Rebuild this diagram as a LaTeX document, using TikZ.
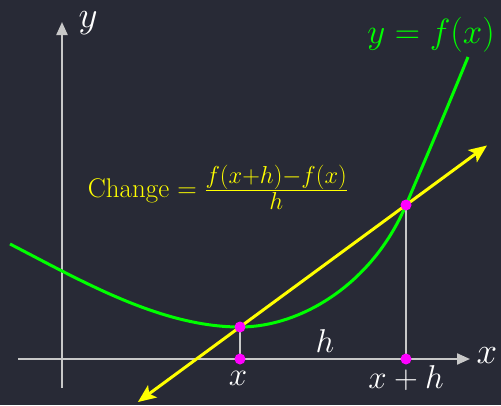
\RequirePackage{fix-cm}
\documentclass[tikz,border=0pt]{standalone}
\usepackage{amsmath}
\usetikzlibrary{arrows.meta,calc}
\definecolor{bg}{HTML}{282A36}
\definecolor{axisgray}{HTML}{C8C8C8}
\definecolor{curvegreen}{HTML}{00FF00}
\definecolor{secyellow}{HTML}{FFFF00}
\definecolor{dotmag}{HTML}{FF00FF}
\newcommand{\fracpart}[1]{\text{\fontsize{24.5}{26}\selectfont$#1$}}
\tikzset{
  axisline/.style={draw=axisgray, line width=2.2pt, -{Triangle[length=13pt,width=11pt]}},
  dropline/.style={draw=axisgray, line width=2.2pt},
  curveline/.style={draw=curvegreen, line width=3pt},
  secline/.style={draw=secyellow, line width=3pt, {Stealth[length=18pt,width=15pt,inset=4pt]}-{Stealth[length=18pt,width=15pt,inset=4pt]}},
  dot/.style={circle, fill=dotmag, inner sep=0pt, minimum size=11pt},
  axislabel/.style={text=white, inner sep=0pt, font=\fontsize{37}{40}\selectfont},
  ticklabel/.style={text=white, inner sep=0pt, font=\fontsize{33}{36}\selectfont},
}
\begin{document}
\begin{tikzpicture}[x=1pt,y=-1pt]
\useasboundingbox (0,0) rectangle (501,405);
\fill[bg] (0,0) rectangle (501,405);
% axes
\coordinate (xs) at (18,359);
\coordinate (xe) at (470,359);
\coordinate (ys) at (62,388);
\coordinate (ye) at (62,22);
\draw[axisline] (xs) -- (xe);
\draw[axisline] (ys) -- (ye);
% points
\coordinate (P) at (240,327);
\coordinate (Q) at (406,205);
\coordinate (Px) at (240,359);
\coordinate (Qx) at (406,359);
\coordinate (C0) at (10,244);
\coordinate (C1) at (468,57);
\draw[dropline] (Px) -- (P);
\draw[dropline] (Qx) -- (Q);
% curve
\draw[curveline] (C0) .. controls (80,280) and (160,327) .. (P)
  .. controls (300,327) and (372,285) .. (Q)
  .. controls (426,158) and (446,111) .. (C1);
% secant
\draw[secline] ($(P)!-0.615!(Q)$) -- ($(P)!1.488!(Q)$);
% dots
\node[dot] (dP) at (P) {};
\node[dot] (dQ) at (Q) {};
\node[dot] (dPx) at (Px) {};
\node[dot] (dQx) at (Qx) {};
% labels
\node[axislabel] (ylab) at (88,23) {$y$};
\node[axislabel] (xlab) at (487,356) {$x$};
\node[text=curvegreen, inner sep=0pt, font=\fontsize{35}{38}\selectfont] (flab) at (431,35) {$y=f(x)$};
\node[ticklabel] (xt) at (238,378) {$x$};
\node[ticklabel] (xht) at (406,378) {$x+h$};
\node[ticklabel] (hl) at (325,341) {$h$};
\node[text=secyellow, inner sep=0pt, font=\fontsize{27}{30}\selectfont] (chg) at (218,187) {Change $=\frac{\fracpart{f(x{+}h){-}f(x)}}{\fracpart{h}}$};
\end{tikzpicture}
\end{document}
